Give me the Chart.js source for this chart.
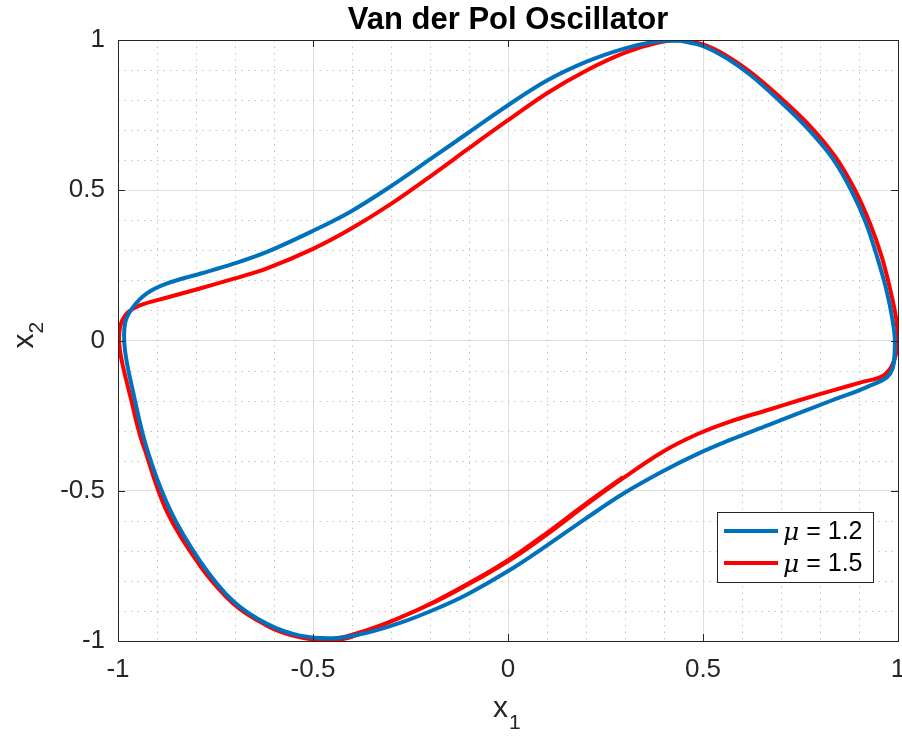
<!DOCTYPE html>
<html>
<head>
<meta charset="utf-8">
<script src="https://cdn.jsdelivr.net/npm/chart.js@4.4.0/dist/chart.umd.min.js"></script>
<style>
  html, body { margin: 0; padding: 0; background: #fff; }
  #wrap { width: 902px; height: 736px; }
</style>
</head>
<body>
<div id="wrap"><canvas id="vdp" width="902" height="736"></canvas></div>
<script>
// limit cycle mu = 1.2 (clockwise, starting at the top)
const blueX1 = [0.44, 0.5, 0.56, 0.62, 0.69, 0.765, 0.83, 0.88, 0.918, 0.946, 0.97, 0.985,
  0.992, 0.98, 0.92, 0.833, 0.749, 0.664, 0.577, 0.485, 0.397, 0.295, 0.2, 0.1,
  0.013, -0.105, -0.19, -0.277, -0.36, -0.44, -0.533, -0.618, -0.705, -0.79, -0.869, -0.926,
  -0.962, -0.982, -0.982, -0.962, -0.926, -0.874, -0.79, -0.705, -0.618, -0.5, -0.405, -0.31,
  -0.192, -0.1, 0, 0.1, 0.2, 0.3, 0.38, 0.44];
const blueX2 = [0.998, 0.98, 0.94, 0.885, 0.805, 0.71, 0.61, 0.5, 0.39, 0.28, 0.17, 0.075,
  -0.01, -0.11, -0.155, -0.198, -0.24, -0.283, -0.327, -0.378, -0.435, -0.51, -0.592, -0.682,
  -0.757, -0.845, -0.896, -0.94, -0.972, -0.99, -0.982, -0.943, -0.867, -0.733, -0.557, -0.36,
  -0.167, -0.033, 0.057, 0.11, 0.157, 0.19, 0.222, 0.255, 0.295, 0.365, 0.428, 0.505,
  0.61, 0.693, 0.783, 0.865, 0.927, 0.972, 0.995, 0.998];

// mu = 1.5, starts near (0.3, -0.46) and runs a little past one loop
const redX1 = [0.295, 0.2, 0.1, 0.013, -0.072, -0.19, -0.277, -0.36, -0.449, -0.533, -0.618, -0.705,
  -0.79, -0.874, -0.93, -0.972, -0.995, -0.995, -0.977, -0.944, -0.874, -0.79, -0.705, -0.618,
  -0.5, -0.405, -0.303, -0.192, -0.1, 0, 0.1, 0.2, 0.3, 0.38, 0.441, 0.5,
  0.56, 0.62, 0.697, 0.775, 0.84, 0.89, 0.928, 0.958, 0.98, 0.995, 1.0, 0.987,
  0.962, 0.903, 0.833, 0.749, 0.664, 0.569, 0.485, 0.397, 0.295,
  0.2, 0.1, 0.013, -0.072, -0.19, -0.36, -0.449, -0.618, -0.79, -0.93, -0.972];
const redX2 = [-0.455, -0.543, -0.64, -0.72, -0.787, -0.87, -0.922, -0.963, -0.994, -0.988, -0.948, -0.875,
  -0.748, -0.571, -0.367, -0.167, -0.033, 0.043, 0.09, 0.117, 0.143, 0.173, 0.205, 0.24,
  0.305, 0.37, 0.452, 0.553, 0.64, 0.733, 0.823, 0.898, 0.958, 0.99, 1.0, 0.985,
  0.948, 0.895, 0.81, 0.713, 0.61, 0.5, 0.39, 0.28, 0.17, 0.075, 0.0, -0.077,
  -0.117, -0.14, -0.166, -0.198, -0.232, -0.27, -0.312, -0.37, -0.458,
  -0.547, -0.645, -0.724, -0.79, -0.872, -0.966, -0.996, -0.949, -0.749, -0.368, -0.167];

const axisTicks = [-1, -0.5, 0, 0.5, 1];
const muValues = ['1.2', '1.5'];
const lineColors = ['#0072BD', '#FF0000'];
const titleText = 'Van der Pol Oscillator';

const toPoints = (xs, ys) => xs.map((v, i) => ({ x: v, y: ys[i] }));

const axisColor = '#262626';
const fontFamily = '"Liberation Sans", Arial, Helvetica, sans-serif';

const matlabLook = {
  id: 'matlabLook',
  beforeDatasetsDraw(chart) {
    const { ctx, chartArea: a, scales: { x, y } } = chart;
    ctx.save();
    ctx.strokeStyle = '#c4c4c4';
    ctx.lineWidth = 1;
    ctx.setLineDash([1.5, 5]);
    for (let i = -9; i <= 9; i++) {
      if (i % 5 === 0) continue;
      const px = Math.round(x.getPixelForValue(i / 10)) + 0.5;
      ctx.beginPath(); ctx.moveTo(px, a.top); ctx.lineTo(px, a.bottom); ctx.stroke();
      const py = Math.round(y.getPixelForValue(i / 10)) + 0.5;
      ctx.beginPath(); ctx.moveTo(a.left, py); ctx.lineTo(a.right, py); ctx.stroke();
    }
    ctx.restore();
  },
  afterDraw(chart) {
    const { ctx, chartArea: a, scales: { x, y } } = chart;
    ctx.save();

    // axes box + inward ticks
    ctx.strokeStyle = axisColor;
    ctx.lineWidth = 1;
    ctx.strokeRect(Math.round(a.left) + 0.5, Math.round(a.top) + 0.5,
      Math.round(a.right - a.left), Math.round(a.bottom - a.top));
    const tl = 7;
    axisTicks.forEach((v) => {
      const px = Math.round(x.getPixelForValue(v)) + 0.5;
      ctx.beginPath();
      ctx.moveTo(px, a.bottom); ctx.lineTo(px, a.bottom - tl);
      ctx.moveTo(px, a.top); ctx.lineTo(px, a.top + tl);
      ctx.stroke();
      const py = Math.round(y.getPixelForValue(v)) + 0.5;
      ctx.beginPath();
      ctx.moveTo(a.left, py); ctx.lineTo(a.left + tl, py);
      ctx.moveTo(a.right, py); ctx.lineTo(a.right - tl, py);
      ctx.stroke();
    });

    // title
    ctx.fillStyle = '#000';
    ctx.textAlign = 'center';
    ctx.textBaseline = 'alphabetic';
    ctx.font = 'bold 31px ' + fontFamily;
    ctx.fillText(titleText, (a.left + a.right) / 2, 29);

    // x label
    ctx.fillStyle = axisColor;
    ctx.textAlign = 'left';
    ctx.font = '30px ' + fontFamily;
    const cx = (a.left + a.right) / 2;
    const xw = ctx.measureText('x').width;
    ctx.fillText('x', cx - xw, 717);
    ctx.font = '21px ' + fontFamily;
    ctx.fillText('1', cx + 1, 729);

    // y label
    ctx.save();
    ctx.translate(33, (a.top + a.bottom) / 2);
    ctx.rotate(-Math.PI / 2);
    ctx.font = '30px ' + fontFamily;
    const yw = ctx.measureText('x').width;
    ctx.fillText('x', -yw + 7, 0);
    ctx.font = '21px ' + fontFamily;
    ctx.fillText('2', 7, 10);
    ctx.restore();

    // legend
    const lx = 717, ly = 512, lw = 156, lh = 70;
    ctx.fillStyle = '#fff';
    ctx.fillRect(lx, ly, lw, lh);
    ctx.strokeStyle = axisColor;
    ctx.lineWidth = 1;
    ctx.strokeRect(lx + 0.5, ly + 0.5, lw, lh);
    muValues.forEach((mu, i) => {
      const rowY = ly + 19 + i * 32;
      ctx.strokeStyle = lineColors[i];
      ctx.lineWidth = 4;
      ctx.beginPath(); ctx.moveTo(lx + 7, rowY); ctx.lineTo(lx + 61, rowY); ctx.stroke();
      ctx.fillStyle = '#000';
      ctx.textBaseline = 'middle';
      ctx.font = 'italic 25px "DejaVu Serif", serif';
      ctx.fillText('\u03bc', lx + 66, rowY + 2);
      const mw = ctx.measureText('\u03bc').width;
      ctx.font = '25px ' + fontFamily;
      ctx.fillText(' = ' + mu, lx + 66 + mw, rowY + 1);
    });

    ctx.restore();
  }
};

const chart = new Chart(document.getElementById('vdp'), {
  type: 'scatter',
  data: {
    datasets: [
      {
        label: '\u03bc = ' + muValues[0],
        data: toPoints(blueX1, blueX2),
        showLine: true,
        borderColor: lineColors[0],
        borderWidth: 4,
        pointRadius: 0,
        tension: 0.35,
        fill: false,
      },
      {
        label: '\u03bc = ' + muValues[1],
        data: toPoints(redX1, redX2),
        showLine: true,
        borderColor: lineColors[1],
        borderWidth: 4,
        pointRadius: 0,
        tension: 0.35,
        fill: false,
      },
    ],
  },
  options: {
    responsive: false,
    animation: false,
    events: [],
    layout: { padding: { top: 40, right: 4, left: 0, bottom: 0 } },
    plugins: {
      legend: { display: false },
      title: { display: false },
      tooltip: { enabled: false },
    },
    scales: {
      x: {
        type: 'linear',
        min: -1,
        max: 1,
        border: { display: false },
        grid: { color: '#dedede', lineWidth: 1, drawTicks: false },
        ticks: {
          stepSize: 0.5,
          padding: 13,
          color: axisColor,
          font: { family: fontFamily, size: 26 },
          maxRotation: 0,
          callback: (v) => String(v),
        },
        afterFit: (scale) => {
          scale.height = 95;
          scale.paddingLeft = 0;
          scale.paddingRight = 0;
        },
      },
      y: {
        type: 'linear',
        min: -1,
        max: 1,
        border: { display: false },
        grid: { color: '#dedede', lineWidth: 1, drawTicks: false },
        ticks: {
          stepSize: 0.5,
          padding: 13,
          color: axisColor,
          font: { family: fontFamily, size: 26 },
          callback: (v) => String(v),
        },
        afterFit: (scale) => {
          scale.width = 118;
          scale.paddingTop = 0;
          scale.paddingBottom = 0;
        },
      },
    },
  },
  plugins: [matlabLook],
});
</script>
</body>
</html>
